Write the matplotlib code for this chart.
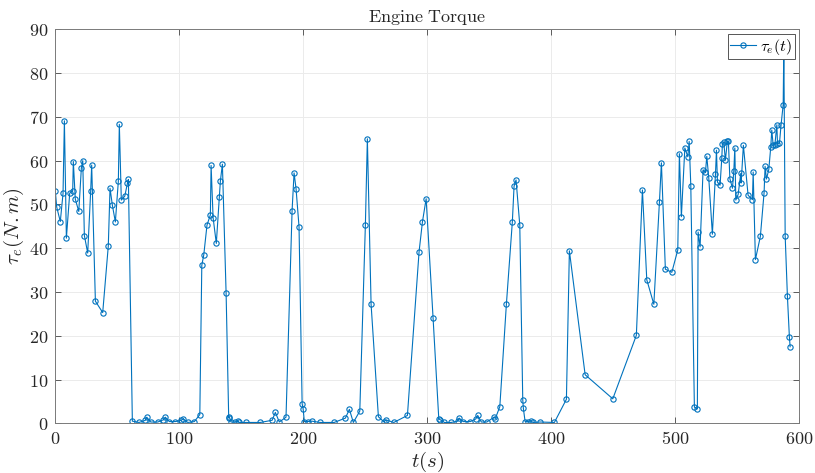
import numpy as np
import matplotlib
matplotlib.use("Agg")
import matplotlib.pyplot as plt

# time samples (s)
t = [0.0, 1.1, 4.0, 6.2, 7.3, 8.9, 11.6, 14.0, 14.5, 16.1, 18.9, 21.0, 22.1, 23.4, 26.1,
     28.5, 29.3, 32.3, 38.2, 42.7, 44.1, 46.0, 48.4, 50.8, 51.6, 53.2, 56.0, 58.1, 58.9,
     62.1, 67.5, 72.6, 73.7, 76.9, 82.6, 87.1, 88.7, 91.9, 96.8, 101.6, 103.2, 106.8, 112.1,
     116.5, 118.1, 119.7, 122.3, 125.0, 125.6, 127.2, 129.8, 132.3, 133.1, 134.7, 137.7,
     139.8, 140.3, 141.7, 144.9, 147.6, 148.1, 154.0, 165.3, 174.8, 177.4, 180.6, 186.0,
     190.9, 192.5, 194.1, 196.5, 199.0, 199.8, 200.8, 203.5, 206.8, 213.5, 224.8,
     233.9, 237.1, 240.3, 245.5, 250.0, 251.6, 254.6, 260.5, 265.1, 266.5, 272.9, 283.9,
     293.3, 296.0, 299.0, 304.6, 309.2, 310.5, 313.7, 319.1, 324.5, 325.6, 328.8, 334.7,
     339.0, 340.6, 343.5, 347.9, 353.8, 354.8, 358.4, 363.7, 368.5, 369.9, 371.5, 374.5,
     376.9, 377.4, 378.8, 381.5, 383.6, 385.0, 391.1, 402.4, 412.1, 414.5, 427.2, 449.5,
     468.5, 473.4, 476.9, 482.6, 487.1, 488.7, 491.9, 497.1, 501.9, 503.2, 504.8, 507.6,
     510.0, 511.1, 512.4, 515.3, 517.7, 518.3, 519.9, 522.3, 524.2, 525.3, 526.9, 529.8,
     532.3, 533.1, 533.9, 536.0, 537.4, 537.9, 539.0, 540.3, 541.9, 542.7, 543.9, 546.0,
     547.1, 547.9, 548.7, 550.6, 552.7, 553.0, 554.8, 558.6, 562.1, 562.7, 564.5, 568.5,
     571.5, 572.3, 573.4, 575.3, 576.9, 577.7, 578.8, 580.2, 581.8, 582.3, 583.9, 585.2,
     586.9, 587.4, 588.5, 590.3, 591.9, 592.5]

# engine torque (N.m)
tau_e = [53.0, 49.4, 46.1, 52.5, 69.1, 42.3, 52.6, 53.1, 59.8, 51.2, 48.4, 58.4, 60.0, 42.9, 38.9,
         53.1, 59.0, 27.9, 25.3, 40.5, 53.7, 49.8, 46.0, 55.3, 68.3, 51.0, 51.9, 54.8, 55.7,
         0.5, 0.2, 0.7, 1.4, 0.3, 0.3, 0.8, 1.4, 0.4, 0.4, 0.7, 1.0, 0.2, 0.4,
         2.0, 36.1, 38.5, 45.3, 47.6, 58.9, 47.0, 41.1, 51.8, 55.4, 59.2, 29.7,
         1.2, 1.5, 0.3, 0.3, 0.5, 0.2, 0.2, 0.2, 0.7, 2.5, 0.3, 1.4,
         48.6, 57.2, 53.6, 44.9, 4.5, 3.3, 0.4, 0.4, 0.5, 0.2, 0.2,
         1.2, 3.2, 0.2, 2.8, 45.3, 65.0, 27.2, 1.5, 0.3, 0.8, 0.2, 1.8,
         39.2, 46.0, 51.3, 24.0, 1.0, 0.8, 0.2, 0.2, 0.5, 1.2, 0.4, 0.4,
         1.0, 1.8, 0.3, 0.3, 1.4, 1.1, 3.8, 27.2, 46.0, 54.2, 55.6, 45.3,
         5.4, 3.4, 0.4, 0.4, 0.6, 0.2, 0.3, 0.2, 5.5, 39.4, 11.1, 5.6,
         20.1, 53.3, 32.8, 27.2, 50.5, 59.5, 35.2, 34.5, 39.6, 61.6, 47.2, 62.9,
         60.9, 64.4, 54.3, 3.7, 3.3, 43.7, 40.3, 57.9, 57.3, 61.0, 56.0, 43.2,
         57.0, 62.4, 55.1, 54.4, 60.6, 63.9, 64.2, 60.1, 64.5, 64.5, 55.9, 53.7,
         57.7, 62.9, 51.0, 52.3, 57.1, 54.9, 63.5, 52.1, 51.1, 57.4, 37.4, 42.7,
         52.7, 58.7, 55.8, 58.0, 63.2, 67.0, 63.6, 63.6, 68.2, 63.9, 64.0, 68.2,
         72.8, 86.0, 42.8, 29.1, 19.7, 17.5]

plt.rcParams['mathtext.fontset'] = 'cm'
plt.rcParams['font.family'] = 'serif'
plt.rcParams['font.serif'] = ['DejaVu Serif']

fig = plt.figure(figsize=(8.15, 4.73), dpi=100)
ax = fig.add_axes([0.0679, 0.105, 0.913, 0.833])

line_color = '#0072BD'
ax.plot(t, tau_e, color=line_color, linewidth=0.8, marker='o', markersize=3.8,
        markerfacecolor='none', markeredgewidth=0.8, label=r'$\tau_e(t)$')

ax.set_xlim(0, 600)
ax.set_ylim(0, 90)
ax.set_xticks(np.arange(0, 601, 100))
ax.set_yticks(np.arange(0, 91, 10))
ax.set_xticklabels([f'${v}$' for v in range(0, 601, 100)])
ax.set_yticklabels([f'${v}$' for v in range(0, 91, 10)])

ax.grid(True, color='#ebebeb', linewidth=0.7)
ax.set_axisbelow(True)
ax.tick_params(direction='in', top=True, right=True, length=4, width=0.6,
               color='#444444', labelsize=13, labelcolor='#262626', pad=5)
for s in ax.spines.values():
    s.set_color('#7a7a7a')
    s.set_linewidth(0.7)

ax.set_xlabel(r'$t(s)$', fontsize=15, color='#262626', labelpad=1)
ax.set_ylabel(r'$\tau_e(N.m)$', fontsize=15, color='#262626', labelpad=2)
ax.set_title(r'$\mathrm{Engine\ Torque}$', fontsize=13, color='#262626', pad=5)

leg = ax.legend(loc='upper right', fontsize=11.5, handlelength=1.6, handletextpad=0.3,
                borderpad=0.15, borderaxespad=0.3, fancybox=False, framealpha=1)
leg.get_frame().set_edgecolor('#555555')
leg.get_frame().set_linewidth(0.7)
leg.set_zorder(10)

fig.savefig('out.png', dpi=100)
